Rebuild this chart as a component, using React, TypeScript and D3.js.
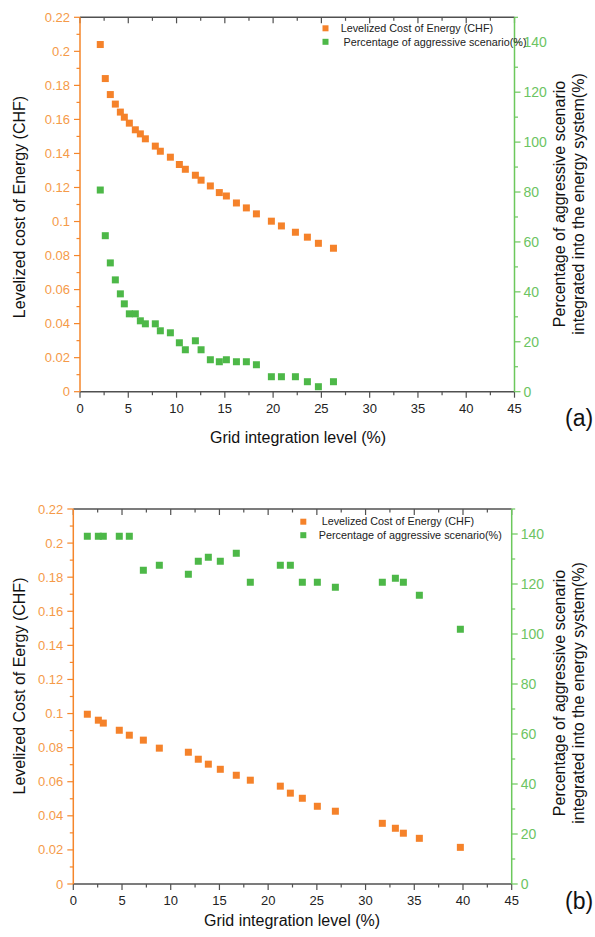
import React from "react";
import * as d3 from "d3";

const xA = [2.1, 2.62, 3.14, 3.66, 4.18, 4.59, 5.11, 5.73, 6.25, 6.77, 7.8, 8.32, 9.36, 10.29, 10.91, 11.95, 12.54, 13.5, 14.43, 15.16, 16.2, 17.23, 18.27, 19.82, 20.86, 22.31, 23.55, 24.69, 26.25];
const lcoeA = [0.204, 0.184, 0.1746, 0.169, 0.1643, 0.1613, 0.1578, 0.1539, 0.1515, 0.1486, 0.1443, 0.1413, 0.1378, 0.1335, 0.1307, 0.1272, 0.1243, 0.1209, 0.117, 0.115, 0.1109, 0.108, 0.1045, 0.1002, 0.0974, 0.0937, 0.0908, 0.0872, 0.0843];
const pctA = [80.8, 62.5, 51.6, 44.8, 39.2, 35.2, 31.2, 31.2, 28.4, 27.2, 27.2, 24.4, 23.6, 19.6, 16.8, 20.4, 16.8, 12.8, 12, 12.8, 12, 12, 10.8, 6, 6, 6, 4, 2, 4];

const xB = [1.44, 2.57, 3.08, 4.72, 5.75, 7.19, 8.83, 11.81, 12.83, 13.86, 15.09, 16.73, 18.17, 21.25, 22.28, 23.51, 25.05, 26.9, 31.72, 33.06, 33.88, 35.52, 39.73];
const lcoeB = [0.0996, 0.0961, 0.0944, 0.0902, 0.0873, 0.0844, 0.0797, 0.0773, 0.0732, 0.0703, 0.0673, 0.0638, 0.0609, 0.0574, 0.0533, 0.0503, 0.0456, 0.0427, 0.0356, 0.0327, 0.0298, 0.0268, 0.0215];
const pctB = [139.1, 139.1, 139.1, 139.1, 139.1, 125.5, 127.5, 123.9, 129.1, 130.7, 129.1, 132.3, 120.7, 127.5, 127.5, 120.7, 120.7, 118.7, 120.7, 122.3, 120.7, 115.5, 101.9];

const xTicks = [0, 5, 10, 15, 20, 25, 30, 35, 40, 45];
const xMinor = [2.5, 7.5, 12.5, 17.5, 22.5, 27.5, 32.5, 37.5, 42.5];
const leftTicks = [0, 0.02, 0.04, 0.06, 0.08, 0.1, 0.12, 0.14, 0.16, 0.18, 0.2, 0.22];
const leftMinor = [0.01, 0.03, 0.05, 0.07, 0.09, 0.11, 0.13, 0.15, 0.17, 0.19, 0.21];
const rightTicks = [0, 20, 40, 60, 80, 100, 120, 140];
const rightMinor = [10, 30, 50, 70, 90, 110, 130, 150];

const ORANGE = "#F5822A";
const ORANGE_AX = "#F5862B";
const ORANGE_TXT = "#F59A48";
const GREEN = "#4DB848";
const GREEN_AX = "#6CC85C";
const GREEN_TXT = "#6CC462";
const GRAY = "#505050";
const FONT = "Arial, 'Liberation Sans', sans-serif";

type PanelProps = {
  left: number; right: number; top: number; bottom: number;
  xs: number[]; lcoe: number[]; pct: number[];
  leftTitle: string; tag: string;
  legendX: number; legendY: number; legendTextX1: number; legendTextX2: number;
  xTitleX: number; xTitleY: number; leftTitleY: number; rightTitleY: number;
};

function Panel(p: PanelProps) {
  const x = d3.scaleLinear().domain([0, 45]).range([p.left, p.right]);
  const yL = d3.scaleLinear().domain([0, 0.22]).range([p.bottom, p.top]);
  const yR = d3.scaleLinear().domain([0, 150]).range([p.bottom, p.top]);
  const fmtL = (v: number) => (v === 0 ? "0" : String(+v.toFixed(2)));
  const ms = 7;
  return (
    <g>
      {/* top axis */}
      <line x1={p.left} x2={p.right} y1={p.top} y2={p.top} stroke={GRAY} strokeWidth={1.5} />
      {xTicks.map((t) => (
        <line key={"tt" + t} x1={x(t)} x2={x(t)} y1={p.top} y2={p.top + 6} stroke={GRAY} strokeWidth={1.2} />
      ))}
      {xMinor.map((t) => (
        <line key={"tm" + t} x1={x(t)} x2={x(t)} y1={p.top} y2={p.top + 3.5} stroke={GRAY} strokeWidth={1.2} />
      ))}
      {/* bottom axis */}
      <line x1={p.left} x2={p.right} y1={p.bottom} y2={p.bottom} stroke={GRAY} strokeWidth={1.5} />
      {xTicks.map((t) => (
        <g key={"bt" + t}>
          <line x1={x(t)} x2={x(t)} y1={p.bottom} y2={p.bottom + 6} stroke={GRAY} strokeWidth={1.2} />
          <text x={x(t)} y={p.bottom + 21} textAnchor="middle" fontSize={13} fontFamily={FONT} fill="#222">{t}</text>
        </g>
      ))}
      {xMinor.map((t) => (
        <line key={"bm" + t} x1={x(t)} x2={x(t)} y1={p.bottom} y2={p.bottom + 3.5} stroke={GRAY} strokeWidth={1.2} />
      ))}
      {/* left axis */}
      <line x1={p.left} x2={p.left} y1={p.top} y2={p.bottom} stroke={ORANGE_AX} strokeWidth={1.5} />
      {leftTicks.map((t) => (
        <g key={"lt" + t}>
          <line x1={p.left - 6} x2={p.left} y1={yL(t)} y2={yL(t)} stroke={ORANGE_AX} strokeWidth={1.2} />
          <text x={p.left - 10} y={yL(t) + 4.5} textAnchor="end" fontSize={13} fontFamily={FONT} fill={ORANGE_TXT}>{fmtL(t)}</text>
        </g>
      ))}
      {leftMinor.map((t) => (
        <line key={"lm" + t} x1={p.left - 3.5} x2={p.left} y1={yL(t)} y2={yL(t)} stroke={ORANGE_AX} strokeWidth={1.2} />
      ))}
      {/* right axis */}
      <line x1={p.right} x2={p.right} y1={p.top} y2={p.bottom} stroke={GREEN_AX} strokeWidth={1.5} />
      {rightTicks.map((t) => (
        <g key={"rt" + t}>
          <line x1={p.right} x2={p.right + 6} y1={yR(t)} y2={yR(t)} stroke={GREEN_AX} strokeWidth={1.2} />
          <text x={p.right + 9} y={yR(t) + 5} textAnchor="start" fontSize={14} fontFamily={FONT} fill={GREEN_TXT}>{t}</text>
        </g>
      ))}
      {rightMinor.map((t) => (
        <line key={"rm" + t} x1={p.right} x2={p.right + 3.5} y1={yR(t)} y2={yR(t)} stroke={GREEN_AX} strokeWidth={1.2} />
      ))}
      {/* data */}
      {p.xs.map((v, i) => (
        <rect key={"o" + i} x={x(v) - ms / 2} y={yL(p.lcoe[i]) - ms / 2} width={ms} height={ms} fill={ORANGE} />
      ))}
      {p.xs.map((v, i) => (
        <rect key={"g" + i} x={x(v) - ms / 2} y={yR(p.pct[i]) - ms / 2} width={ms} height={ms} fill={GREEN} />
      ))}
      {/* legend */}
      <rect x={p.legendX - 3} y={p.legendY - 3} width={6} height={6} fill={ORANGE} />
      <text x={p.legendTextX1} y={p.legendY + 3.7} fontSize={10.8} fontFamily={FONT} fill="#222">Levelized Cost of Energy (CHF)</text>
      <rect x={p.legendX - 3} y={p.legendY + 13.5 - 3} width={6} height={6} fill={GREEN} />
      <text x={p.legendTextX2} y={p.legendY + 17.2} fontSize={10.8} fontFamily={FONT} fill="#222">Percentage of aggressive scenario(%)</text>
      {/* titles */}
      <text x={p.xTitleX} y={p.xTitleY} textAnchor="middle" fontSize={16} fontFamily={FONT} fill="#111">Grid integration level (%)</text>
      <text transform={`translate(25,${p.leftTitleY}) rotate(-90)`} textAnchor="middle" fontSize={16} fontFamily={FONT} fill="#111">{p.leftTitle}</text>
      <text transform={`translate(565,${p.rightTitleY}) rotate(-90)`} textAnchor="middle" fontSize={16} fontFamily={FONT} fill="#111">Percentage of aggressive scenario</text>
      <text transform={`translate(584,${p.rightTitleY}) rotate(-90)`} textAnchor="middle" fontSize={16} fontFamily={FONT} fill="#111">integrated into the energy system(%)</text>
      <text x={565} y={p.xTitleY - 17} fontSize={23} fontFamily={FONT} fill="#111">{p.tag}</text>
    </g>
  );
}

export default function App() {
  return (
    <svg width={595} height={937} style={{ position: "absolute", left: 0, top: 0, background: "#fff" }}>
      <rect width={595} height={937} fill="#fff" />
      <Panel left={80} right={514.5} top={17.3} bottom={391.7} xs={xA} lcoe={lcoeA} pct={pctA}
        leftTitle="Levelized cost of Energy (CHF)" tag="(a)"
        legendX={325.5} legendY={28.3} legendTextX1={340.7} legendTextX2={343.5}
        xTitleX={298} xTitleY={443} leftTitleY={207} rightTitleY={204} />
      <Panel left={73.3} right={511.7} top={509} bottom={884} xs={xB} lcoe={lcoeB} pct={pctB}
        leftTitle="Levelized Cost of Eergy (CHF)" tag="(b)"
        legendX={303.3} legendY={521.7} legendTextX1={321.7} legendTextX2={318.7}
        xTitleX={292} xTitleY={926} leftTitleY={686} rightTitleY={693} />
    </svg>
  );
}
